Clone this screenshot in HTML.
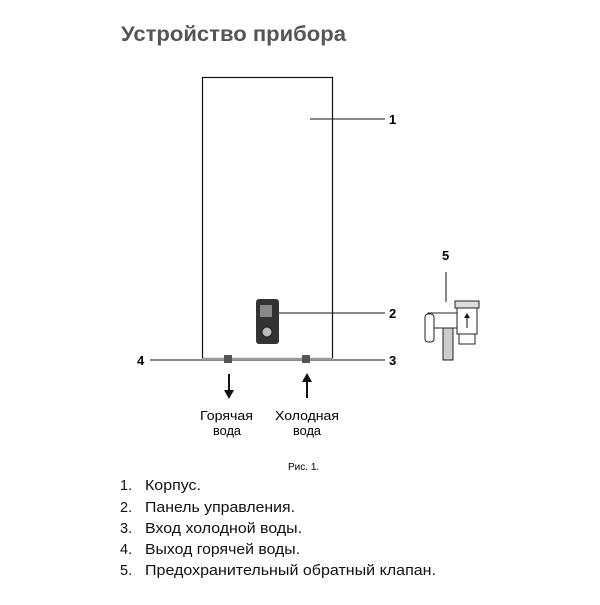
<!DOCTYPE html><html><head><meta charset="utf-8"><style>
body{margin:0;background:#fff;}
svg text{font-family:"Liberation Sans",sans-serif;}
</style></head><body>
<svg width="600" height="600" viewBox="0 0 600 600" xmlns="http://www.w3.org/2000/svg">
<text x="121" y="41" font-size="21" font-weight="bold" fill="#555" textLength="225" lengthAdjust="spacingAndGlyphs">Устройство прибора</text>
<rect x="202.5" y="77.5" width="130" height="281" fill="none" stroke="#111" stroke-width="1.2"/>
<line x1="310" y1="119" x2="385" y2="119" stroke="#111"/>
<text x="389" y="124" font-size="13" font-weight="bold">1</text>
<rect x="256" y="299" width="23" height="45" rx="3" fill="#333"/>
<rect x="260" y="305" width="12" height="12" fill="#888"/>
<circle cx="267" cy="332" r="5" fill="#bbb" stroke="#222"/>
<line x1="279" y1="313" x2="385" y2="313" stroke="#111"/>
<text x="389" y="318" font-size="13" font-weight="bold">2</text>
<line x1="150" y1="360" x2="385" y2="360" stroke="#111"/>
<line x1="202" y1="359" x2="333" y2="359" stroke="#999" stroke-width="2"/>
<rect x="224" y="355" width="8" height="8" fill="#555"/>
<rect x="302" y="355" width="8" height="8" fill="#555"/>
<text x="137" y="365" font-size="13" font-weight="bold">4</text>
<text x="389" y="365" font-size="13" font-weight="bold">3</text>
<line x1="229" y1="374" x2="229" y2="392" stroke="#111" stroke-width="2"/>
<polygon points="224,390 234,390 229,399" fill="#111"/>
<line x1="307" y1="380" x2="307" y2="398" stroke="#111" stroke-width="2"/>
<polygon points="302,382 312,382 307,373" fill="#111"/>
<text x="200" y="420" font-size="13" textLength="53" lengthAdjust="spacingAndGlyphs">Горячая</text>
<text x="213" y="435" font-size="13" textLength="28" lengthAdjust="spacingAndGlyphs">вода</text>
<text x="275" y="420" font-size="13" textLength="64" lengthAdjust="spacingAndGlyphs">Холодная</text>
<text x="293" y="435" font-size="13" textLength="28" lengthAdjust="spacingAndGlyphs">вода</text>
<text x="442" y="260" font-size="13" font-weight="bold">5</text>
<line x1="446" y1="272" x2="446" y2="302" stroke="#111"/>
<g stroke="#222" fill="#fff" stroke-width="1">
<rect x="428" y="313" width="30" height="15"/>
<rect x="443" y="328" width="10" height="32" fill="#ccc"/>
<rect x="425" y="314" width="9" height="28" rx="3"/>
<rect x="455" y="301" width="24" height="7" fill="#ddd"/>
<rect x="457" y="308" width="20" height="26"/>
<rect x="459" y="334" width="16" height="10"/>
</g>
<line x1="467" y1="316" x2="467" y2="328" stroke="#111"/>
<polygon points="464,318 470,318 467,313" fill="#111"/>
<text x="288" y="470" font-size="10">Рис. 1.</text>
<g font-size="14.5" fill="#111">
<text x="120" y="490">1.</text><text x="145" y="490" textLength="56" lengthAdjust="spacingAndGlyphs">Корпус.</text>
<text x="120" y="512">2.</text><text x="145" y="512" textLength="150" lengthAdjust="spacingAndGlyphs">Панель управления.</text>
<text x="120" y="533">3.</text><text x="145" y="533" textLength="157" lengthAdjust="spacingAndGlyphs">Вход холодной воды.</text>
<text x="120" y="554">4.</text><text x="145" y="554" textLength="155" lengthAdjust="spacingAndGlyphs">Выход горячей воды.</text>
<text x="120" y="575">5.</text><text x="145" y="575" textLength="291" lengthAdjust="spacingAndGlyphs">Предохранительный обратный клапан.</text>
</g>
</svg>
</body></html>
